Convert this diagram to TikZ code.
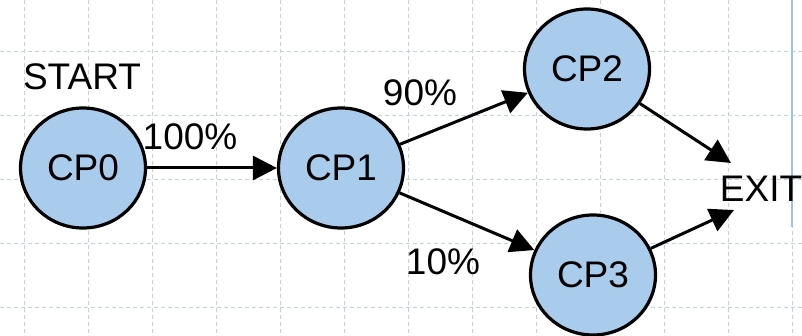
\documentclass[tikz,border=0pt]{standalone}
\usepackage{fontspec}
\setmainfont{Liberation Sans}
\usetikzlibrary{arrows.meta,shapes.geometric}
\definecolor{cpfill}{RGB}{170,204,236}
\definecolor{gridline}{RGB}{192,210,224}
\definecolor{edgeline}{RGB}{157,195,226}
\tikzset{
  cp/.style={ellipse, draw=black, line width=3.2pt, fill=cpfill,
    minimum width=125pt, minimum height=120pt, inner sep=0pt,
    font=\fontsize{37}{40}\selectfont},
  lbl/.style={inner sep=0pt, font=\fontsize{37}{40}\selectfont},
  flow/.style={line width=3pt, -{Triangle[length=24pt,width=24pt]}},
  gridrule/.style={gridline, line width=1.2pt, dash pattern=on 4pt off 3pt}
}
\begin{document}
\begin{tikzpicture}[x=1pt,y=-1pt]
  \useasboundingbox (0,0) rectangle (802,336);
  \fill[white] (0,0) rectangle (802,336);
  % dashed background grid
  \foreach \gx in {24.5,88.5,...,800} \draw[gridrule] (\gx,0) -- (\gx,336);
  \foreach \gy in {51.5,115.5,...,336} \draw[gridrule] (0,\gy) -- (802,\gy);
  % page edge marker
  \draw[edgeline, line width=1.5pt] (792,0) -- (792,227);

  % checkpoints
  \node[cp] (cp0) at (83,168) {CP0};
  \node[cp] (cp1) at (341,168) {CP1};
  \node[cp] (cp2) at (587,69) {CP2};
  \node[cp] (cp3) at (593,275) {CP3};

  % entry and exit labels
  \node[lbl] (start) at (82,77) {START};
  \node[lbl] (exit) at (761,189) {EXIT};
  \coordinate (exitA) at (731,163);
  \coordinate (exitB) at (734,210);

  % transitions
  \draw[flow] (cp0) -- (cp1);
  \draw[flow] (cp1) -- (cp2);
  \draw[flow] (cp1) -- (cp3);
  \draw[flow] (cp2) -- (exitA);
  \draw[flow] (cp3) -- (exitB);

  % transition probabilities
  \node[lbl] (p100) at (190,137) {100\%};
  \node[lbl] (p90) at (420,93) {90\%};
  \node[lbl] (p10) at (443,262) {10\%};
\end{tikzpicture}
\end{document}
